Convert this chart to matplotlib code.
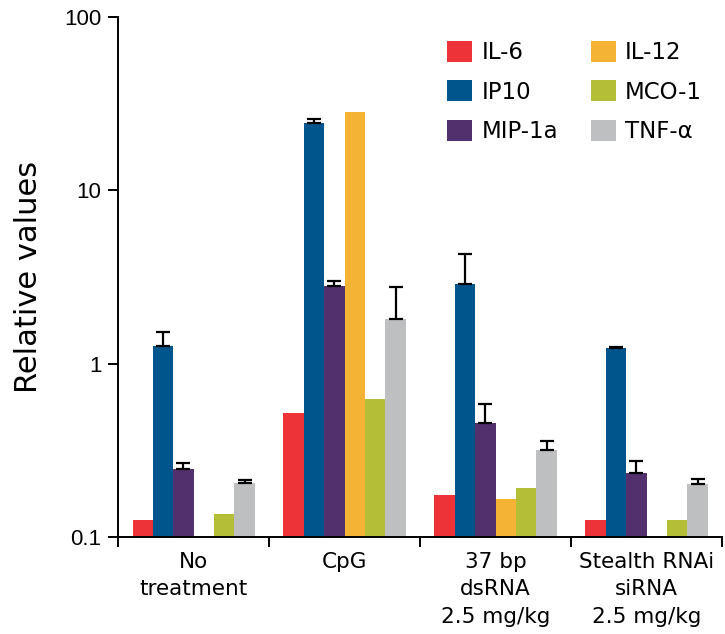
import numpy as np
import matplotlib
matplotlib.use("Agg")
import matplotlib.pyplot as plt

plt.rcParams['font.family'] = ['DejaVu Sans']

groups = ["No\ntreatment", "CpG", "37 bp\ndsRNA\n2.5 mg/kg", "Stealth RNAi\nsiRNA\n2.5 mg/kg"]
cytokines = ["IL-6", "IP10", "MIP-1a", "IL-12", "MCO-1", "TNF-α"]
colors = ["#EE3338", "#00558C", "#52306E", "#F5B335", "#B4BE36", "#BEBFC1"]

# relative values per cytokine, one entry per treatment group (nan = not measured)
il6 = [0.125, 0.52, 0.175, 0.125]
ip10 = [1.26, 24.5, 2.88, 1.23]
mip1a = [0.247, 2.81, 0.455, 0.234]
il12 = [np.nan, 28.3, 0.166, np.nan]
mco1 = [0.136, 0.625, 0.192, 0.125]
tnfa = [0.205, 1.81, 0.318, 0.202]

# upper error bars (nan = none shown)
il6_err = [np.nan] * 4
ip10_err = [0.26, 1.4, 1.43, 0.02]
mip1a_err = [0.02, 0.2, 0.13, 0.039]
il12_err = [np.nan] * 4
mco1_err = [np.nan] * 4
tnfa_err = [0.008, 0.97, 0.042, 0.014]

values = [il6, ip10, mip1a, il12, mco1, tnfa]
errors = [il6_err, ip10_err, mip1a_err, il12_err, mco1_err, tnfa_err]

fig = plt.figure(figsize=(7.25, 6.34), dpi=100)
ax = fig.add_axes([0.163, 0.153, 0.833, 0.820])
ax.set_yscale('log')

x = np.arange(len(groups))
w = 0.135
for i, (vals, errs) in enumerate(zip(values, errors)):
    pos = x + (i - 2.5) * w
    vals = np.array(vals)
    errs = np.array(errs)
    ax.bar(pos, vals, width=w, color=colors[i], label=cytokines[i], zorder=2)
    has = ~np.isnan(errs)
    ax.errorbar(pos[has], vals[has], yerr=[np.zeros(has.sum()), errs[has]],
                fmt='none', ecolor='black', elinewidth=1.6, capsize=4.8,
                capthick=1.6, zorder=3)

ax.set_ylim(0.1, 100)
ax.set_xlim(-0.5, 3.5)
ax.set_yticks([0.1, 1, 10, 100])
ax.set_yticklabels(["0.1", "1", "10", "100"], family='Liberation Sans', fontsize=16)
ax.yaxis.set_minor_locator(matplotlib.ticker.NullLocator())
ax.tick_params(axis='y', which='major', length=7, width=1.4, pad=5)

ax.set_xticks([-0.5, 0.5, 1.5, 2.5, 3.5])
ax.set_xticklabels([])
ax.set_xticks(x, minor=True)
ax.set_xticklabels(groups, minor=True, fontsize=15.5, linespacing=1.45)
ax.tick_params(axis='x', which='major', length=7, width=1.4)
ax.tick_params(axis='x', which='minor', length=0, pad=11)

for s in ['top', 'right']:
    ax.spines[s].set_visible(False)
for s in ['left', 'bottom']:
    ax.spines[s].set_linewidth(1.4)

ax.set_ylabel("Relative values", fontsize=22)
ax.yaxis.set_label_coords(-0.125, 0.5)

ax.legend(ncol=2, frameon=False, fontsize=16.5, loc='upper left',
          bbox_to_anchor=(0.545, 0.955), borderpad=0, borderaxespad=0,
          handlelength=1.09, handleheight=1.05, handletextpad=0.4,
          columnspacing=1.44, labelspacing=0.71)

fig.savefig("out.png", dpi=100)
